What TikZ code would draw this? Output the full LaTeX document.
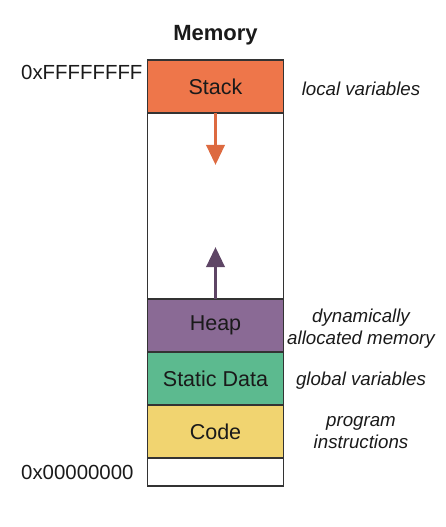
\documentclass[tikz,border=0pt]{standalone}
\usepackage{fontspec}
\setmainfont{Liberation Sans}
\usetikzlibrary{positioning}
\usetikzlibrary{arrows.meta}

\definecolor{stackcol}{HTML}{EE764A}
\definecolor{heapcol}{HTML}{8A6A95}
\definecolor{staticcol}{HTML}{5CBA8F}
\definecolor{codecol}{HTML}{F1D470}
\definecolor{stackarr}{HTML}{DD6A40}
\definecolor{heaparr}{HTML}{5E4565}
\definecolor{edgecol}{HTML}{333333}
\definecolor{txtcol}{HTML}{1A1A1A}

\begin{document}
\begin{tikzpicture}[x=1bp,y=-1bp,
    seg/.style={draw=edgecol, line width=1.6bp, minimum width=136bp, minimum height=53bp,
      inner sep=0pt, outer sep=0pt, text=txtcol, font=\fontsize{21.5bp}{24bp}\selectfont},
    addr/.style={anchor=west, inner sep=0pt, text=txtcol, font=\fontsize{20.4bp}{24bp}\selectfont},
    note/.style={align=center, inner sep=0pt, text=txtcol, font=\fontsize{18.7bp}{22bp}\selectfont\itshape},
    growarrow/.style={line width=3.5bp, -{Triangle[width=18bp,length=20bp]}}]
  \useasboundingbox (0,0) rectangle (446,527);

  % Set the centre line of the memory column
  \def\mx{215.5}

  \node[text=txtcol, font=\fontsize{22bp}{24bp}\selectfont\bfseries] (title) at (\mx,35) {Memory};

  % whole address space
  \node[draw=edgecol, line width=1.6bp, minimum width=136bp, minimum height=426bp,
    inner sep=0pt, outer sep=0pt, anchor=north] (mem) at (\mx,60) {};

  % segments
  \node[seg, fill=stackcol, anchor=north] (stack) at (mem.north) {Stack};
  \node[seg, fill=heapcol, anchor=north] (heap) at (\mx,299) {Heap};
  \node[seg, fill=staticcol, below=0pt of heap] (static) {Static Data};
  \node[seg, fill=codecol, below=0pt of static] (code) {Code};

  % growth directions
  \coordinate (stacktip) at (\mx,165);
  \coordinate (heaptip) at (\mx,247);
  \draw[growarrow, stackarr] (stack.south) -- (stacktip);
  \draw[growarrow, heaparr] (heap.north) -- (heaptip);

  % addresses
  \node[addr] (hiaddr) at (21,72) {0xFFFFFFFF};
  \node[addr] (loaddr) at (21,472) {0x00000000};

  % what lives where
  \node[note] (stacknote) at (361,89) {local variables};
  \node[note] (heapnote) at (361,329) {dynamically\\allocated memory};
  \node[note] (staticnote) at (361,381) {global variables};
  \node[note] (codenote) at (361,433) {program\\instructions};
\end{tikzpicture}
\end{document}
